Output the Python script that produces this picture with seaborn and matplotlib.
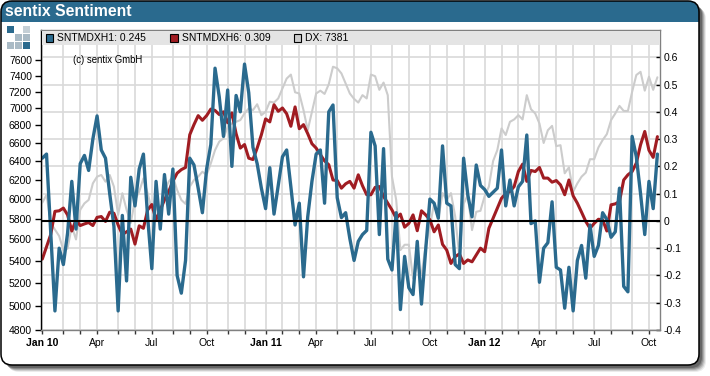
import matplotlib
matplotlib.use("Agg")
import numpy as np
import pandas as pd
import seaborn as sns
import matplotlib.pyplot as plt
import matplotlib.dates as mdates
from matplotlib.patches import FancyBboxPatch, Rectangle
from matplotlib.ticker import FixedLocator, FixedFormatter, NullLocator

# weekly sentiment readings
h1 = [.23,.245,-.045,-.33,-.10,-.16,-.045,.145,-.03,.21,.24,.185,.30,.385,.26,.23,.10,-.02,-.33,.02,
      -.22,.16,.055,.19,.245,.015,-.175,.145,-.03,.17,.025,.19,-.20,-.265,-.145,.23,.205,.12,.03,.19,
      .28,.56,.455,.31,.48,.20,.46,.40,.575,.47,.27,.21,.12,.045,.195,.025,.13,.235,.26,.125,
      -.015,.065,-.205,.015,.145,.245,.26,.065,.40,.425,.085,.012,.03,-.065,-.145,-.075,-.05,-.035,.325,.275,
      -.05,.265,-.14,-.18,.03,-.325,-.13,-.245,-.27,-.075,-.305,-.105,.08,.065,.01,.275,.065,.055,-.16,-.175,
      .23,.095,.015,.205,.13,.115,.09,.105,.12,.26,.055,.15,.055,.125,.145,.315,-.01,0,-.225,-.10,
      -.08,.07,-.17,-.18,-.32,-.17,-.33,-.145,-.09,-.21,-.015,-.13,-.09,.03,.005,-.06,-.04,.12,-.24,-.26,
      .31,.235,.10,-.05,.145,.045,.245]
h6 = [-.14,-.095,-.05,.035,.037,.047,.022,-.037,.004,-.017,-.011,-.006,-.017,.013,.016,-.002,.032,.028,-.015,-.05,
      -.04,-.03,-.085,-.018,-.027,.04,.06,.004,.04,.077,.108,.145,.175,.188,.196,.316,.353,.386,.369,.386,
      .41,.405,.39,.40,.36,.396,.32,.267,.28,.23,.225,.267,.316,.374,.363,.426,.402,.414,.393,.347,
      .418,.338,.353,.32,.283,.267,.243,.22,.206,.15,.148,.12,.136,.145,.12,.169,.129,.096,.096,.123,
      .126,.09,.065,.04,.01,.025,-.023,-.009,.022,-.036,.037,.022,.004,-.04,-.015,-.086,-.107,-.156,-.131,-.121,
      -.156,-.143,-.15,-.125,-.10,-.113,-.027,.01,.047,.083,.10,.108,.126,.181,.208,.145,.185,.181,.196,.157,
      .157,.142,.148,.132,.096,.15,.092,.065,.032,-.002,-.027,-.009,.006,.004,-.037,.059,.0625,.071,.15,.169,
      .181,.212,.279,.328,.259,.233,.309]
dx = [5962,6042,5760,5695,5633,5500,5514,5727,5600,5890,5955,5990,6161,6232,6250,6179,6250,6127,5840,6059,
      5890,5760,5990,6075,6214,6059,5890,5923,5824,6093,6179,6232,6093,5990,5950,6127,6196,6232,6285,6250,
      6375,6520,6615,6652,6786,6823,6842,6862,6941,7000,6980,7050,6920,6960,7080,7070,7120,7240,7365,7415,
      7195,7180,6980,6745,6960,7180,7215,7175,7295,7515,7495,7430,7305,7180,7115,7070,7160,7120,7415,7395,
      7225,7315,7160,6232,5990,5500,5550,5550,5240,5360,5270,5545,5725,5955,5800,6060,5990,6060,5824,5440,
      5950,6040,5690,5870,5880,6030,6127,6400,6520,6765,6690,6842,6870,6920,6870,7160,6990,6940,6823,6600,
      6745,6795,6565,6575,6268,6332,6075,6161,6232,6275,6420,6420,6550,6633,6700,6862,6940,7030,6970,6970,
      7200,7410,7450,7215,7388,7225,7381]

left_ticks = [4800,5000,5200,5400,5600,5800,6000,6200,6400,6600,6800,7000,7200,7400,7600]
right_ticks = [-0.4,-0.3,-0.2,-0.1,0,0.1,0.2,0.3,0.4,0.5,0.6]
right_labels = ["-0.4","-0.3","-0.2","-0.1","0","0.1","0.2","0.3","0.4","0.5","0.6"]

BLUE = "#2a6a8e"
RED = "#a01c22"
GREY = "#cccccc"

sns.set_theme(style="white")
plt.rcParams["font.family"] = ["Liberation Sans", "DejaVu Sans"]

df = pd.DataFrame({"date": pd.date_range("2010-01-01", periods=len(h1), freq="W-FRI"),
                   "h1": h1, "h6": h6, "dx": dx})

W, H = 710, 376
fig = plt.figure(figsize=(W / 100, H / 100), dpi=100, facecolor="white")

# frame, drawn in pixel coordinates
bg = fig.add_axes([0, 0, 1, 1])
bg.set_xlim(0, W)
bg.set_ylim(H, 0)
bg.axis("off")
for off, a in [(7, .08), (6, .12), (5, .16), (4, .20), (3, .26)]:
    bg.add_patch(FancyBboxPatch((1 + off, 1 + off), 698, 364, boxstyle="round,pad=0,rounding_size=11",
                                fc="black", ec="none", alpha=a))
bg.add_patch(FancyBboxPatch((1, 1), 698, 364, boxstyle="round,pad=0,rounding_size=11", fc="white", ec="none"))
bar = FancyBboxPatch((1, 1), 698, 364, boxstyle="round,pad=0,rounding_size=11", fc=BLUE, ec="none")
bg.add_patch(bar)
bar.set_clip_path(Rectangle((0, 0), W, 22, transform=bg.transData))
bg.add_patch(FancyBboxPatch((1, 1), 698, 364, boxstyle="round,pad=0,rounding_size=11", fc="none", ec="black", lw=1.1))
bg.text(5, 11.5, "sentix Sentiment", color="white", fontsize=11.3, fontweight="bold", va="center", ha="left")

# little logo
logo = [(7, 26, BLUE), (23, 26, "#c4cfd6"), (15, 34, "#a9bac5"), (23, 34, "#a9bac5"),
        (7, 42, "#a9bac5"), (15, 42, "#a9bac5"), (23, 42, BLUE)]
for lx, ly, lc in logo:
    bg.add_patch(Rectangle((lx, ly), 7, 7, fc=lc, ec="none"))

L, R, T, B = 41, 660, 30, 330
rect = [L / W, 1 - B / H, (R - L) / W, (B - T) / H]

# three layers: grid below, DX in the middle, sentiment on top
ax = fig.add_axes(rect)
ax.patch.set_facecolor("white")
ax_dx = ax.twinx()
ax_s = ax.twinx()

sns.lineplot(data=df, x="date", y="dx", ax=ax_dx, color=GREY, lw=1.5, errorbar=None)
sns.lineplot(data=df, x="date", y="h6", ax=ax_s, color=RED, lw=2.2, errorbar=None)
sns.lineplot(data=df, x="date", y="h1", ax=ax_s, color=BLUE, lw=2.4, errorbar=None)
ax_s.axhline(0, color="black", lw=1.5, zorder=6)

px_week = 4.213
x0 = mdates.date2num(df["date"].iloc[0])
xlim = (x0 - 1.3 / px_week * 7, x0 + (R - 42.3) / px_week * 7)

# one tick on the first reading of each month
months = df.groupby(df["date"].dt.to_period("M"))["date"].first()
tick_x = [mdates.date2num(d) for d in months]
tick_lab = []
for d in months:
    if d.month == 1:
        tick_lab.append(d.strftime("Jan %y"))
    elif d.month in (4, 7, 10):
        tick_lab.append(d.strftime("%b"))
    else:
        tick_lab.append("")

for a in (ax, ax_dx, ax_s):
    a.set_xlim(*xlim)
    a.set_xlabel("")
    a.set_ylabel("")

ax.set_ylim(-0.4, 0.7)
ax_s.set_ylim(-0.4, 0.7)
ax_dx.set_yscale("log")
ax_dx.set_ylim(4800, 8000)

ax.grid(True, color="#d9d9d9", lw=1.2)
ax.set_axisbelow(True)
ax.xaxis.set_major_locator(FixedLocator(tick_x))
ax.xaxis.set_major_formatter(FixedFormatter(tick_lab))
ax.yaxis.set_major_locator(FixedLocator(right_ticks))
ax.tick_params(axis="y", left=False, right=False, labelleft=False, labelright=False)
ax.tick_params(axis="x", bottom=True, length=3, width=1, color="#333333", pad=3, labelsize=7.5, labelcolor="black")
for lab, d in zip(ax.get_xticklabels(), months):
    if d.month == 1:
        lab.set_fontweight("bold")

# DX on the left, log axis
ax_dx.yaxis.tick_left()
ax_dx.yaxis.set_major_locator(FixedLocator(left_ticks))
ax_dx.yaxis.set_major_formatter(FixedFormatter([str(t) for t in left_ticks]))
ax_dx.yaxis.set_minor_locator(NullLocator())
ax_dx.tick_params(axis="y", which="major", left=True, right=False, labelleft=True, labelright=False, length=4, width=1,
                  color="black", pad=2.5, labelsize=7.5, labelcolor="black")
ax_dx.tick_params(axis="x", bottom=False, labelbottom=False)

ax_s.yaxis.set_major_locator(FixedLocator(right_ticks))
ax_s.yaxis.set_major_formatter(FixedFormatter(right_labels))
ax_s.yaxis.tick_right()
ax_s.tick_params(axis="y", right=True, left=False, labelright=True, labelleft=False, direction="in", length=3, width=1,
                 color="black", pad=2.5, labelsize=7.5, labelcolor="black")
ax_s.tick_params(axis="x", bottom=False, labelbottom=False)

for a in (ax, ax_dx, ax_s):
    for side in a.spines:
        a.spines[side].set_color("#808080")
        a.spines[side].set_linewidth(1.0)
        a.spines[side].set_visible(a is ax_s)
ax_s.spines["left"].set_color("black")
ax_s.patch.set_alpha(0)
ax_dx.patch.set_alpha(0)

# legend strip on top of everything
top = fig.add_axes([0, 0, 1, 1], zorder=10)
top.set_xlim(0, W)
top.set_ylim(H, 0)
top.axis("off")
top.patch.set_alpha(0)
top.add_patch(Rectangle((L + .5, T + .5), R - L - 1, 14, fc="#e4e4e4", ec="none"))
legend_items = [(45.5, BLUE, f"SNTMDXH1: {h1[-1]:.3f}"), (170, RED, f"SNTMDXH6: {h6[-1]:.3f}"),
                (293.5, GREY, f"DX: {dx[-1]}")]
for sx, sc, st in legend_items:
    top.add_patch(Rectangle((sx, 34), 7.5, 8, fc=sc, ec="black", lw=0.8))
    top.text(sx + 11.5, 38, st, fontsize=7.5, va="center", ha="left", color="black")
top.text(73, 60, "(c) sentix GmbH", fontsize=6.9, va="center", ha="left", color="black")

fig.savefig("out.png", dpi=100)
